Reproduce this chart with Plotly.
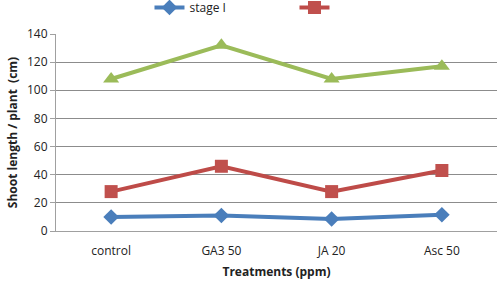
import plotly.graph_objects as go

categories = ["control", "GA3 50", "JA 20", "Asc 50"]
stage1 = [10, 11, 8.5, 11.5]
stage2 = [28, 46, 28, 43]
stage3 = [108, 132, 108, 117]
y_ticks = [0, 20, 40, 60, 80, 100, 120, 140]

fig = go.Figure()
fig.add_trace(go.Scatter(x=categories, y=stage1, name="stage I", mode="lines+markers",
                         line=dict(color="#4A7EBB", width=4),
                         marker=dict(symbol="diamond", size=12, color="#4A7EBB")))
fig.add_trace(go.Scatter(x=categories, y=stage2, name=" ", mode="lines+markers",
                         line=dict(color="#BE4B48", width=4),
                         marker=dict(symbol="square", size=13, color="#C0504D")))
fig.add_trace(go.Scatter(x=categories, y=stage3, name="", mode="lines+markers",
                         line=dict(color="#9BBB59", width=4),
                         marker=dict(symbol="triangle-up", size=14, color="#9BBB59"),
                         showlegend=False))

fig.update_layout(
    width=500, height=281,
    margin=dict(l=56, r=3, t=34, b=50, autoexpand=False),
    paper_bgcolor="white", plot_bgcolor="white",
    font=dict(family="Open Sans, Liberation Sans, Arial", size=12, color="#222"),
    legend=dict(orientation="h", x=0.212, y=1.135, xanchor="left", yanchor="middle",
                font=dict(size=12), itemwidth=30, entrywidth=100, entrywidthmode="pixels",
                bgcolor="rgba(0,0,0,0)"),
    xaxis=dict(range=[-0.5, 3.5], showline=True, linecolor="#A0A0A0", linewidth=1,
               ticks="", showgrid=False, automargin=False, ticklabelstandoff=9,
               title=dict(text="<b>Treatments (ppm)</b>", font=dict(size=12), standoff=9),
               tickfont=dict(size=12)),
    yaxis=dict(range=[0, 140], tickvals=y_ticks, showline=True, linecolor="#A0A0A0",
               ticks="outside", ticklen=5, tickcolor="#A0A0A0", automargin=False,
               gridcolor="#8C8C8C", gridwidth=1, zeroline=False,
               title=dict(text="<b>Shoot length / plant  (cm)</b>", font=dict(size=12), standoff=6),
               tickfont=dict(size=12)),
)

fig.write_html("out.html", config={"displayModeBar": False},
               post_script="document.body.style.margin='0';document.body.style.overflow='hidden';")
